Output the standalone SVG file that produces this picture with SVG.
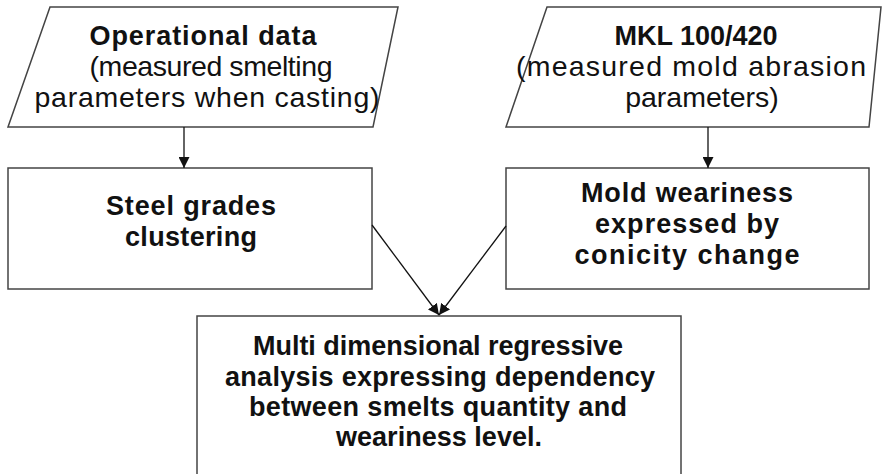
<svg xmlns="http://www.w3.org/2000/svg" width="883" height="474" viewBox="0 0 883 474">
<style>
.shape{fill:#fff;stroke:#444;stroke-width:1.5}
.t{font-family:"Liberation Sans",Arial,sans-serif;font-size:28.5px;fill:#111;text-anchor:middle}
.b{font-weight:bold;font-size:27px}
.c{stroke:#111;stroke-width:1.3;fill:none;marker-end:url(#ah)}
</style>
<defs>
<marker id="ah" viewBox="0 0 10 10" refX="10" refY="5" markerWidth="11" markerHeight="11" markerUnits="userSpaceOnUse" orient="auto">
<path d="M0,0 L10,5 L0,10 Z" fill="#111"/>
</marker>
</defs>
<rect width="883" height="474" fill="#fff"/>
<g id="n1">
<polygon class="shape" points="50,7 398,7 373,127 8,127"/>
<text class="t b" x="203" y="45" textLength="227">Operational data</text>
<text class="t" x="211" y="76" textLength="243">(measured smelting</text>
<text class="t" x="207" y="107" textLength="345">parameters when casting)</text>
</g>
<g id="n2">
<polygon class="shape" points="547,7 881,7 869,127 506,127"/>
<text class="t b" x="696" y="45">MKL 100/420</text>
<text class="t" x="691" y="76" textLength="350">(measured mold abrasion</text>
<text class="t" x="702" y="107">parameters)</text>
</g>
<g id="n3">
<rect class="shape" x="8" y="168" width="364" height="121"/>
<text class="t b" x="191" y="215" textLength="170">Steel grades</text>
<text class="t b" x="191" y="246" textLength="132">clustering</text>
</g>
<g id="n4">
<rect class="shape" x="506" y="168" width="363" height="121"/>
<text class="t b" x="687" y="202" textLength="212">Mold weariness</text>
<text class="t b" x="687" y="233" textLength="184">expressed by</text>
<text class="t b" x="687" y="264" textLength="225">conicity change</text>
</g>
<g id="n5">
<rect class="shape" x="197" y="316" width="484" height="170"/>
<text class="t b" x="438" y="355" textLength="370">Multi dimensional regressive</text>
<text class="t b" x="440" y="386" textLength="430">analysis expressing dependency</text>
<text class="t b" x="438" y="416" textLength="378">between smelts quantity and</text>
<text class="t b" x="439" y="446" textLength="206">weariness level.</text>
</g>
<g id="connectors">
<line class="c" x1="184" y1="127" x2="184" y2="168"/>
<line class="c" x1="708" y1="127" x2="708" y2="168"/>
<line class="c" x1="372" y1="225" x2="439" y2="315"/>
<line class="c" x1="506" y1="226" x2="439" y2="315"/>
</g>
</svg>
